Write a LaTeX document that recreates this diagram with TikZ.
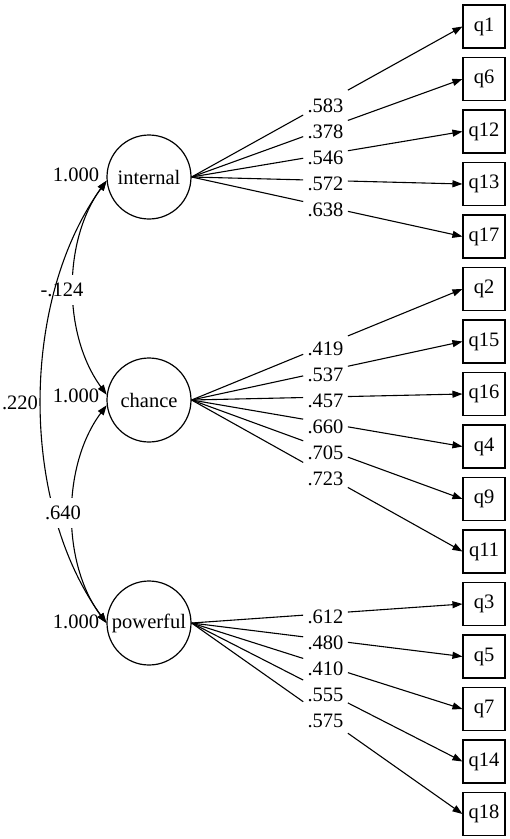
\documentclass[tikz,border=0pt]{standalone}
\usepackage{fontspec}
\setmainfont{Liberation Serif}
\usetikzlibrary{arrows.meta,calc}
\tikzset{
  latent/.style={circle,draw,line width=1.2pt,minimum size=84pt,inner sep=0pt},
  obs/.style={rectangle,draw,line width=1.1pt,minimum width=42pt,minimum height=43pt,inner sep=0pt},
  ln/.style={line width=1.1pt},
  tip/.style={-{Triangle[length=10pt,width=7pt]}},
  dtip/.style={{Triangle[length=10pt,width=7pt]}-{Triangle[length=10pt,width=7pt]}},
  lab/.style={inner sep=0pt},
  covlab/.style={fill=white,inner xsep=1pt,inner ysep=8pt},
}
\newcommand\ldline[3]{%
  \draw[ln] (#1.east) -- ($(#1.east)!0.412!(#2.west)$);
  \draw[ln,tip] ($(#1.east)!0.577!(#2.west)$) -- (#2.west);
  \node[lab] (l#2) at ($(#1.east)!0.4945!(#2.west)+(0,3.5)$) {#3};
}
\begin{document}
\begin{tikzpicture}[x=1pt,y=-1pt,font=\fontsize{20.5}{24}\selectfont]
\useasboundingbox (0,0) rectangle (510,839);
\node[latent] (internal) at (149,177) {internal};
\node[latent] (chance) at (149,400) {chance};
\node[latent] (powerful) at (149,623) {powerful};
\foreach \n [count=\i from 0] in {q1,q6,q12,q13,q17,q2,q15,q16,q4,q9,q11,q3,q5,q7,q14,q18}
  \node[obs] (\n) at (484,{26.5+52.5*\i}) {\n};
\ldline{internal}{q1}{.583}
\ldline{internal}{q6}{.378}
\ldline{internal}{q12}{.546}
\ldline{internal}{q13}{.572}
\ldline{internal}{q17}{.638}
\ldline{chance}{q2}{.419}
\ldline{chance}{q15}{.537}
\ldline{chance}{q16}{.457}
\ldline{chance}{q4}{.660}
\ldline{chance}{q9}{.705}
\ldline{chance}{q11}{.723}
\ldline{powerful}{q3}{.612}
\ldline{powerful}{q5}{.480}
\ldline{powerful}{q7}{.410}
\ldline{powerful}{q14}{.555}
\ldline{powerful}{q18}{.575}
\node (v1) at (76,175) {1.000};
\node (v2) at (76,396) {1.000};
\node (v3) at (76,622) {1.000};
\draw[ln,dtip] (internal.185) .. controls +(-44,60) and +(-44,-60) .. (chance.173);
\node[covlab] (c1) at (62,290) {-.124};
\draw[ln,dtip] (internal.185) .. controls +(-86.7,120) and +(-86.7,-120) .. (powerful.180);
\node (c2) at (20,403) {.220};
\draw[ln,dtip] (chance.187) .. controls +(-45,60) and +(-45,-60) .. (powerful.180);
\node[covlab] (c3) at (63,513) {.640};
\end{tikzpicture}
\end{document}
